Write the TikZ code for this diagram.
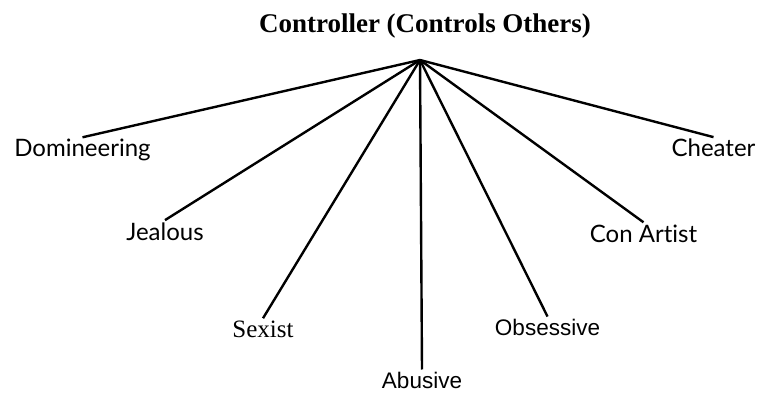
\documentclass[tikz,border=0pt]{standalone}
\usepackage{fontspec}
\setmainfont{Liberation Serif}
\newfontfamily\humanfont[Ligatures=NoCommon]{Lato}
\newfontfamily\arialfont{Liberation Sans}
\begin{document}
\begin{tikzpicture}[x=1pt,y=-1pt,
	spoke/.style={line width=2.4pt},
	headline/.style={font=\fontsize{27}{30}\selectfont\bfseries, anchor=base, inner sep=2pt},
	trait/.style={font=\humanfont\fontsize{24}{27}\selectfont, anchor=base, inner sep=2pt},
	traitserif/.style={font=\fontsize{25}{28}\selectfont, anchor=base, inner sep=2pt},
	traitsans/.style={font=\arialfont\fontsize{22.5}{25}\selectfont, anchor=base, inner sep=2pt}]
	\useasboundingbox (0,0) rectangle (759,395);
	%\draw[very thin,color=gray] (0,0) grid[step=50] (759,395);
	\node[headline] (ctrl) at (425,33) {Controller (Controls Others)};
	\coordinate (apex) at (420,60);
	\node[trait] (dom) at (82.5,157) {Domineering};
	\node[trait] (jeal) at (165,240) {Jealous};
	\node[traitserif] (sex) at (263,337) {Sexist};
	\node[traitsans] (abus) at (422,388) {Abusive};
	\node[traitsans] (obs) at (547.5,335) {Obsessive};
	\node[trait] (con) at (643.5,242) {Con Artist};
	\node[trait] (cheat) at (713.5,157) {Cheater};
	\draw[spoke] (apex) -- (dom.north);
	\draw[spoke] (apex) -- (jeal.north);
	\draw[spoke] (apex) -- (sex.north);
	\draw[spoke] (apex) -- (abus.north);
	\draw[spoke] (apex) -- (obs.north);
	\draw[spoke] (apex) -- (con.north);
	\draw[spoke] (apex) -- (cheat.north);
\end{tikzpicture}
\end{document}
